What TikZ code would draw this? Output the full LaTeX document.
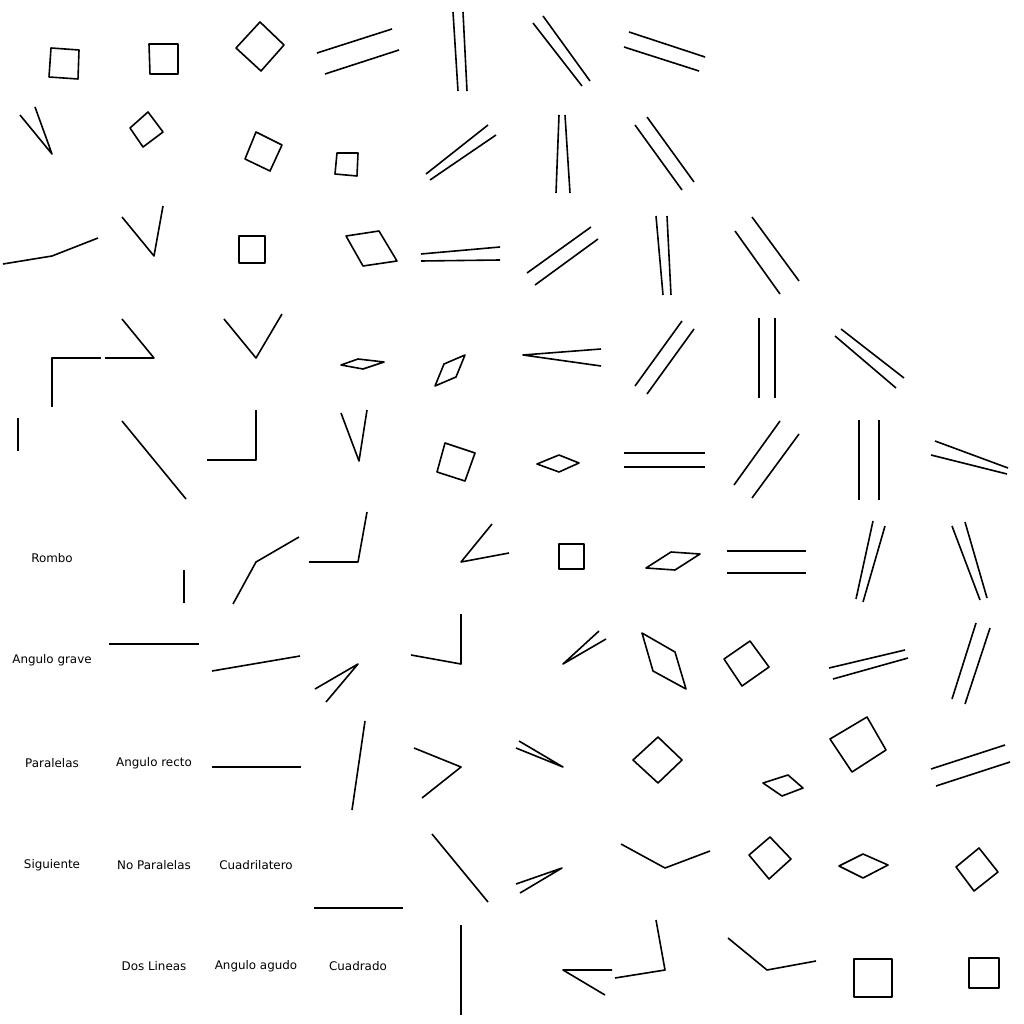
\documentclass[tikz,border=0pt]{standalone}
\usepackage{fontspec}
\setmainfont{DejaVu Sans}

\begin{document}
\begin{tikzpicture}[
    x=1pt, y=-1pt,
    fig/.style={draw, line width=1.6pt, line join=round},
    lbl/.style={font=\fontsize{11.9}{14}\selectfont, inner sep=0pt},
]
    \useasboundingbox (0,0) rectangle (1024,1024);

    % Labels
    \node[lbl] (rombo) at (52,558) {Rombo};
    \node[lbl] (grave) at (52,660) {Angulo grave};
    \node[lbl] (paralelas) at (52,763) {Paralelas};
    \node[lbl] (recto) at (154,763) {Angulo recto};
    \node[lbl] (siguiente) at (52,865) {Siguiente};
    \node[lbl] (noparalelas) at (154,865) {No Paralelas};
    \node[lbl] (cuadrilatero) at (256,865) {Cuadrilatero};
    \node[lbl] (doslineas) at (154,966) {Dos Lineas};
    \node[lbl] (agudo) at (256,966) {Angulo agudo};
    \node[lbl] (cuadrado) at (358,966) {Cuadrado};

    % Row 1
    \draw[fig] (51,48) -- (79,50) -- (78,79) -- (49,77) -- cycle;
    \draw[fig] (149,44) -- (178,44) -- (178,74) -- (150,74) -- cycle;
    \draw[fig] (260,22) -- (284,45) -- (261,71) -- (236,48) -- cycle;
    \draw[fig] (317,53) -- (392,29);
    \draw[fig] (325,74) -- (399,50);
    \draw[fig] (453,12) -- (458,91);
    \draw[fig] (463,12) -- (467,91);
    \draw[fig] (533,23) -- (582,86);
    \draw[fig] (543,16) -- (590,81);
    \draw[fig] (629,32) -- (705,57);
    \draw[fig] (624,47) -- (699,71);

    % Row 2
    \draw[fig] (20,115) -- (52,154) -- (35,107);
    \draw[fig] (148,112) -- (163,132) -- (143,147) -- (130,128) -- cycle;
    \draw[fig] (256,132) -- (282,145) -- (270,171) -- (245,159) -- cycle;
    \draw[fig] (337,153) -- (358,153) -- (357,176) -- (335,174) -- cycle;
    \draw[fig] (426,174) -- (488,125);
    \draw[fig] (430,180) -- (496,135);
    \draw[fig] (559,115) -- (556,193);
    \draw[fig] (565,115) -- (570,193);
    \draw[fig] (635,125) -- (682,190);
    \draw[fig] (647,117) -- (694,182);

    % Row 3
    \draw[fig] (3,264) -- (52,256) -- (98,238);
    \draw[fig] (122,217) -- (154,256) -- (163,206);
    \draw[fig] (239,236) -- (265,236) -- (265,263) -- (239,263) -- cycle;
    \draw[fig] (346,236) -- (379,231) -- (397,261) -- (363,266) -- cycle;
    \draw[fig] (421,254) -- (500,247);
    \draw[fig] (421,261) -- (500,260);
    \draw[fig] (527,273) -- (591,227);
    \draw[fig] (535,285) -- (598,239);
    \draw[fig] (656,216) -- (663,295);
    \draw[fig] (667,216) -- (671,295);
    \draw[fig] (735,231) -- (780,294);
    \draw[fig] (752,217) -- (799,281);

    % Row 4
    \draw[fig] (52,407) -- (52,358) -- (101,358);
    \draw[fig] (105,358) -- (154,358) -- (122,319);
    \draw[fig] (224,319) -- (256,358) -- (282,314);
    \draw[fig] (341,365) -- (358,359) -- (384,362) -- (363,369) -- cycle;
    \draw[fig] (435,386) -- (444,364) -- (465,355) -- (456,377) -- cycle;
    \draw[fig] (601,349) -- (523,355) -- (601,366);
    \draw[fig] (635,386) -- (682,321);
    \draw[fig] (647,394) -- (694,329);
    \draw[fig] (759,318) -- (759,398);
    \draw[fig] (775,318) -- (775,398);
    \draw[fig] (835,336) -- (896,388);
    \draw[fig] (841,329) -- (904,378);

    % Row 5
    \draw[fig] (18,418) -- (18,451);
    \draw[fig] (122,421) -- (186,499);
    \draw[fig] (207,460) -- (256,460) -- (256,410);
    \draw[fig] (341,413) -- (359,461) -- (367,410);
    \draw[fig] (445,443) -- (475,453) -- (465,481) -- (437,472) -- cycle;
    \draw[fig] (537,464) -- (559,455) -- (579,463) -- (559,472) -- cycle;
    \draw[fig] (624,453) -- (705,453);
    \draw[fig] (624,467) -- (705,467);
    \draw[fig] (734,485) -- (780,421);
    \draw[fig] (752,498) -- (799,434);
    \draw[fig] (859,420) -- (859,500);
    \draw[fig] (879,420) -- (879,500);
    \draw[fig] (935,441) -- (1008,468);
    \draw[fig] (931,455) -- (1007,474);

    % Row 6
    \draw[fig] (184,570) -- (184,603);
    \draw[fig] (233,604) -- (256,562) -- (299,537);
    \draw[fig] (309,562) -- (358,562) -- (367,512);
    \draw[fig] (492,524) -- (461,562) -- (509,553);
    \draw[fig] (559,544) -- (584,544) -- (584,569) -- (559,569) -- cycle;
    \draw[fig] (646,568) -- (671,552) -- (700,554) -- (675,570) -- cycle;
    \draw[fig] (727,551) -- (806,551);
    \draw[fig] (727,573) -- (806,573);
    \draw[fig] (856,599) -- (873,521);
    \draw[fig] (863,602) -- (885,526);
    \draw[fig] (952,526) -- (980,600);
    \draw[fig] (965,522) -- (987,598);

    % Row 7
    \draw[fig] (109,644) -- (199,644);
    \draw[fig] (212,671) -- (300,656);
    \draw[fig] (315,689) -- (358,664) -- (326,702);
    \draw[fig] (411,655) -- (461,664) -- (461,614);
    \draw[fig] (599,631) -- (563,664) -- (606,639);
    \draw[fig] (642,633) -- (675,652) -- (686,689) -- (653,671) -- cycle;
    \draw[fig] (750,641) -- (769,667) -- (742,686) -- (724,659) -- cycle;
    \draw[fig] (829,668) -- (905,650);
    \draw[fig] (833,679) -- (908,658);
    \draw[fig] (952,699) -- (976,623);
    \draw[fig] (965,704) -- (990,628);

    % Row 8
    \draw[fig] (212,767) -- (301,767);
    \draw[fig] (365,721) -- (352,810);
    \draw[fig] (414,748) -- (461,767) -- (422,798);
    \draw[fig] (519,741) -- (563,767) -- (516,748);
    \draw[fig] (658,737) -- (682,760) -- (658,783) -- (633,760) -- cycle;
    \draw[fig] (763,783) -- (788,775) -- (803,788) -- (782,796) -- cycle;
    \draw[fig] (830,739) -- (867,717) -- (886,750) -- (852,772) -- cycle;
    \draw[fig] (931,769) -- (1005,745);
    \draw[fig] (936,786) -- (1010,762);

    % Row 9
    \draw[fig] (314,908) -- (403,908);
    \draw[fig] (432,834) -- (488,902);
    \draw[fig] (516,884) -- (562,868) -- (520,893);
    \draw[fig] (621,844) -- (665,868) -- (710,851);
    \draw[fig] (770,837) -- (791,859) -- (769,879) -- (749,855) -- cycle;
    \draw[fig] (863,854) -- (888,865) -- (863,878) -- (839,866) -- cycle;
    \draw[fig] (979,848) -- (998,872) -- (974,891) -- (956,867) -- cycle;

    % Row 10
    \draw[fig] (461,925) -- (461,1015);
    \draw[fig] (612,970) -- (563,970) -- (605,995);
    \draw[fig] (615,978) -- (665,970) -- (656,920);
    \draw[fig] (728,938) -- (767,970) -- (816,961);
    \draw[fig] (854,959) -- (892,959) -- (892,997) -- (854,997) -- cycle;
    \draw[fig] (969,958) -- (999,958) -- (999,988) -- (969,988) -- cycle;
\end{tikzpicture}
\end{document}
